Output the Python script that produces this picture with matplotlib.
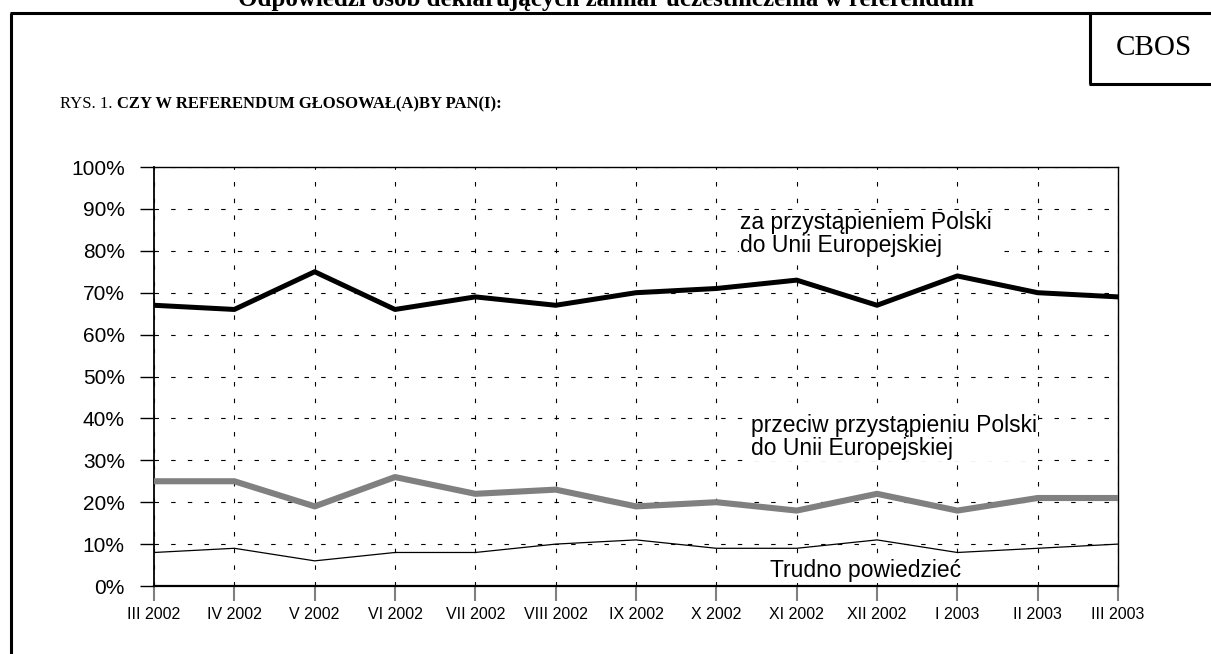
import matplotlib
matplotlib.use("Agg")
import matplotlib.pyplot as plt
from matplotlib.lines import Line2D

months = ["III 2002", "IV 2002", "V 2002", "VI 2002", "VII 2002", "VIII 2002",
          "IX 2002", "X 2002", "XI 2002", "XII 2002", "I 2003", "II 2003", "III 2003"]
za = [67, 66, 75, 66, 69, 67, 70, 71, 73, 67, 74, 70, 69]
przeciw = [25, 25, 19, 26, 22, 23, 19, 20, 18, 22, 18, 21, 21]
trudno = [8, 9, 6, 8, 8, 10, 11, 9, 9, 11, 8, 9, 10]

W, H = 1211, 654
fig = plt.figure(figsize=(W / 100, H / 100), dpi=100)

def fx(px):
    return px / W

def fy(py):
    return 1 - py / H

# page frame and CBOS box
frame_kw = dict(color="black", lw=2.2, transform=fig.transFigure, solid_capstyle="butt")
fig.add_artist(Line2D([fx(11), fx(11)], [fy(13), fy(660)], **frame_kw))
fig.add_artist(Line2D([fx(10), fx(1215)], [fy(13), fy(13)], **frame_kw))
fig.add_artist(Line2D([fx(1090), fx(1090)], [fy(13), fy(84)], **frame_kw))
fig.add_artist(Line2D([fx(1089), fx(1215)], [fy(84), fy(84)], **frame_kw))

# heading of the page, cut off at the top like in the scan
fig.text(fx(606), fy(6), "Odpowiedzi osób deklarujących zamiar uczestniczenia w referendum",
         ha="center", va="baseline", family="Liberation Serif", fontweight="bold", fontsize=18)
fig.text(fx(1154), fy(48), "CBOS", ha="center", va="center",
         family="Liberation Serif", fontsize=21)
t1 = fig.text(fx(60), fy(108), "RYS. 1. ", ha="left", va="baseline",
              family="Liberation Serif", fontsize=12)
fig.canvas.draw()
bb = t1.get_window_extent()
fig.text(bb.x1 / W, fy(108), "CZY W REFERENDUM GŁOSOWAŁ(A)BY PAN(I):", ha="left",
         va="baseline", family="Liberation Serif", fontweight="bold", fontsize=12)

ax = fig.add_axes([fx(154), fy(586), fx(1118) - fx(154), fy(167) - fy(586)])
x = list(range(len(months)))
ax.plot(x, trudno, color="black", lw=0.9, zorder=3)
ax.plot(x, przeciw, color="#808080", lw=4.4, zorder=3)
ax.plot(x, za, color="black", lw=3.6, zorder=4)

ax.set_xlim(0, len(months) - 1)
ax.set_ylim(0, 100)
ax.set_yticks(range(0, 101, 10))
ax.set_yticklabels([f"{v}%" for v in range(0, 101, 10)], family="Liberation Sans", fontsize=15)
ax.set_xticks(x)
ax.set_xticklabels(months, family="Liberation Sans", fontsize=11.5)
ax.tick_params(axis="y", length=10, width=1, color="black", pad=11)
ax.tick_params(axis="x", length=11, width=1.5, color="#808080", pad=4)
ax.grid(True, color="black", lw=0.8, linestyle=(0, (4, 11)))
ax.set_axisbelow(True)
for side, w in [("left", 1.3), ("bottom", 1.6), ("top", 1.0), ("right", 1.0)]:
    ax.spines[side].set_linewidth(w)
    ax.spines[side].set_color("black")

box = dict(facecolor="white", edgecolor="none", pad=1)
ax.text(7.30, 84, "za przystąpieniem Polski\ndo Unii Europejskiej", ha="left", va="center",
        family="Liberation Sans", fontsize=16.5, linespacing=1.0, bbox=box, zorder=5)
ax.text(7.43, 35.6, "przeciw przystąpieniu Polski\ndo Unii Europejskiej", ha="left", va="center",
        family="Liberation Sans", fontsize=16.5, linespacing=1.0, bbox=box, zorder=5)
ax.text(7.67, 3.8, "Trudno powiedzieć", ha="left", va="center",
        family="Liberation Sans", fontsize=16.5, bbox=box, zorder=5)

fig.savefig("out.png", dpi=100)
plt.close(fig)
